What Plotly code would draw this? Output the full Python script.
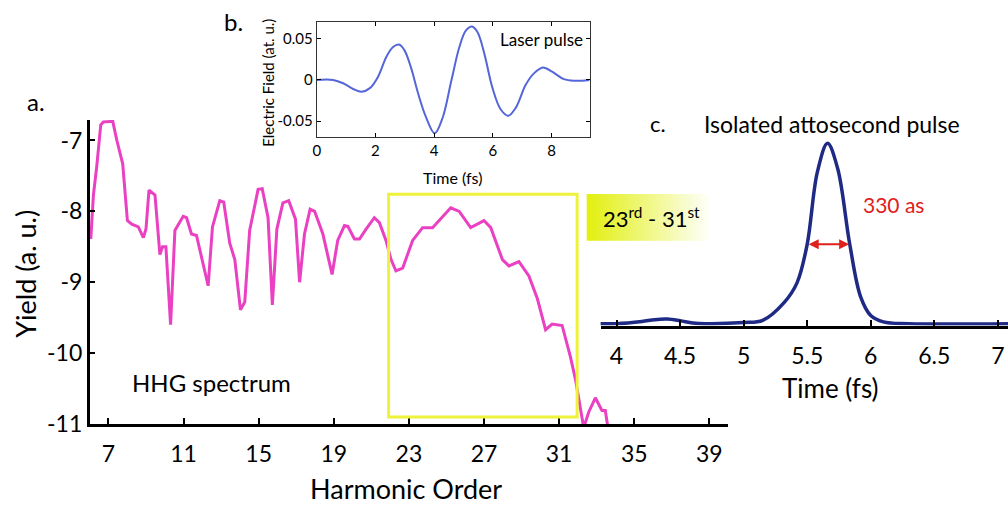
import plotly.graph_objects as go

W, H = 1008, 515
FONT = "Lato"

# ---- a. HHG spectrum (log yield vs harmonic order) ----
harmonic = [6.06, 6.2, 6.38, 6.59, 6.73, 7.23, 7.44, 7.76, 8.01, 8.24, 8.59, 8.86, 9.0, 9.16,
            9.48, 9.74, 9.88, 10.06, 10.31, 10.54, 10.98, 11.16, 11.42, 11.69, 12.31, 12.54,
            12.93, 13.14, 13.46, 13.73, 14.03, 14.26, 14.52, 14.97, 15.19, 15.5, 15.73, 15.97,
            16.29, 16.6, 16.96, 17.18, 17.44, 17.74, 17.98, 18.42, 18.91, 19.21, 19.57, 19.75,
            20.1, 20.37, 20.72, 21.16, 21.43, 21.78, 22.05, 22.31, 22.67, 23.2, 23.73, 24.26,
            25.23, 25.68, 26.29, 27.0, 27.36, 27.98, 28.33, 28.86, 29.39, 29.84, 30.28, 30.63,
            31.16, 31.6, 31.87, 32.31, 32.58, 32.93, 33.28, 33.46, 33.6]
log_yield = [-8.39, -7.77, -7.36, -6.78, -6.74, -6.73, -6.99, -7.33, -8.13, -8.18, -8.22, -8.37,
             -8.25, -7.70, -7.77, -8.61, -8.50, -8.50, -9.60, -8.27, -8.07, -8.09, -8.32, -8.34,
             -9.05, -8.22, -7.85, -7.87, -8.45, -8.68, -9.39, -9.28, -8.27, -7.69, -7.68, -8.09,
             -9.32, -8.25, -7.88, -7.85, -8.11, -9.0, -8.32, -7.97, -8.0, -8.32, -8.89, -8.41,
             -8.20, -8.21, -8.39, -8.39, -8.25, -8.09, -8.16, -8.41, -8.68, -8.84, -8.80, -8.41,
             -8.23, -8.23, -7.95, -8.0, -8.23, -8.13, -8.23, -8.68, -8.77, -8.71, -8.91, -9.23,
             -9.67, -9.59, -9.61, -10.05, -10.37, -11.05, -10.83, -10.63, -10.81, -10.81, -11.05]
harmonic_ticks = [7, 11, 15, 19, 23, 27, 31, 35, 39]
yield_ticks = [-7, -8, -9, -10, -11]
yield_tick_text = ["-7", "-8", "-9", "-10", "-11"]
# filtered window of harmonics
window_orders = [21.92, 31.96]
window_yield = [-10.9, -7.76]

# ---- b. driving laser field ----
laser_t = [0.0, 0.56, 0.9, 1.24, 1.53, 1.81, 2.09, 2.37, 2.6, 2.8, 2.99, 3.22, 3.45, 3.73, 4.02,
           4.29, 4.58, 4.86, 5.08, 5.29, 5.48, 5.71, 5.99, 6.27, 6.53, 6.78, 7.12, 7.4, 7.71,
           8.02, 8.42, 8.76, 9.3]
laser_field = [0.0, 0.0, -0.004, -0.011, -0.0144, -0.010, 0.004, 0.028, 0.040, 0.043, 0.036,
               0.014, -0.016, -0.046, -0.065, -0.046, -0.002, 0.040, 0.060, 0.065, 0.058, 0.032,
               -0.010, -0.036, -0.0436, -0.034, -0.006, 0.008, 0.0152, 0.010, 0.001, -0.001, 0.0]
laser_t_ticks = [0, 2, 4, 6, 8]
field_ticks = [-0.05, 0, 0.05]
field_tick_text = ["-0.05", "0", "0.05"]

# ---- c. isolated attosecond pulse intensity ----
pulse_t = [3.8, 4.0, 4.2, 4.3, 4.4, 4.5, 4.6, 4.7, 5.0, 5.15, 5.32, 5.42, 5.5, 5.58, 5.66,
           5.74, 5.835, 5.92, 6.0, 6.1, 6.3, 7.2]
pulse_int = [0.0, 0.0, 0.012, 0.022, 0.025, 0.016, 0.004, 0.0, 0.006, 0.018, 0.118, 0.226,
             0.44, 0.84, 1.0, 0.86, 0.44, 0.15, 0.045, 0.01, 0.0, 0.0]
pulse_t_ticks = [4, 4.5, 5, 5.5, 6, 6.5, 7]
pulse_t_text = ["4", "4.5", "5", "5.5", "6", "6.5", "7"]
fwhm_start = 5.5   # fs
fwhm_as = 330      # attoseconds


def px(x):
    return x / W


def py(y):
    return 1 - y / H


MAGENTA = "#ea40c2"
NAVY = "#1e2a84"
BLUE = "#5566d8"
YELLOW = "#eef23a"

fig = go.Figure()

fig.add_trace(go.Scatter(x=harmonic, y=log_yield, mode="lines",
                         line=dict(color=MAGENTA, width=3), xaxis="x", yaxis="y"))
fig.add_trace(go.Scatter(x=pulse_t, y=pulse_int, mode="lines", line_shape="spline",
                         line=dict(color=NAVY, width=3.5), xaxis="x2", yaxis="y2"))
fig.add_trace(go.Scatter(x=laser_t, y=laser_field, mode="lines", line_shape="spline",
                         line=dict(color=BLUE, width=2), xaxis="x3", yaxis="y3"))

axis_common = dict(showgrid=False, zeroline=False, showline=True, linecolor="black",
                   ticks="inside", tickcolor="black")

shapes = [dict(type="rect", xref="x", yref="y",
               x0=window_orders[0], x1=window_orders[1], y0=window_yield[0], y1=window_yield[1],
               line=dict(color=YELLOW, width=3), fillcolor="rgba(0,0,0,0)")]

# gradient label box (yellow-green fading to white)
gx0, gx1, gy0, gy1 = 585, 713, 199, 247
steps = 32
c0 = (226, 240, 18)
for i in range(steps):
    f = i / (steps - 1)
    col = tuple(int(round(c + (255 - c) * f)) for c in c0)
    shapes.append(dict(type="rect", xref="paper", yref="paper", layer="below",
                       x0=px(gx0 + (gx1 - gx0) * i / steps),
                       x1=px(gx0 + (gx1 - gx0) * (i + 1) / steps + 0.6),
                       y0=py(gy1), y1=py(gy0),
                       line=dict(width=0), fillcolor="rgb(%d,%d,%d)" % col))


def label(text, x, y, size, color="black", angle=0, xanchor="center"):
    return dict(text=text, x=px(x), y=py(y), xref="paper", yref="paper", showarrow=False,
                xanchor=xanchor, yanchor="middle", textangle=angle,
                font=dict(family=FONT, size=size, color=color))


annotations = [
    label("a.", 32, 104, 24),
    label("b.", 230, 22, 24),
    label("c.", 657, 127, 22),
    label("Isolated attosecond pulse", 831, 127, 23),
    label("330 as", 893, 210, 21, color="#e0201c"),
    label("HHG spectrum", 208, 392, 24),
    label("Yield (a. u.)", 22, 281, 27, angle=-90),
    label("Harmonic Order", 404, 501, 27),
    label("Time (fs)", 830, 398, 26),
    label("Electric Field (at. u.)", 265, 85, 15, angle=-90),
    label("Time (fs)", 450, 182, 16),
    label("Laser pulse", 583, 41, 17, xanchor="right"),
    label("23<sup>rd</sup> - 31<sup>st</sup>", 650, 223, 22),
    dict(x=fwhm_start + fwhm_as / 1000, y=0.44, ax=fwhm_start, ay=0.44,
         xref="x2", yref="y2", axref="x2", ayref="y2", text="", showarrow=True,
         arrowhead=2, startarrowhead=2, arrowside="end+start", arrowsize=1,
         startarrowsize=1, arrowwidth=2, arrowcolor="#e0201c", standoff=0, startstandoff=0),
]

fig.update_layout(
    width=W, height=H, margin=dict(l=0, r=0, t=0, b=0),
    paper_bgcolor="white", plot_bgcolor="rgba(0,0,0,0)", showlegend=False,
    font=dict(family=FONT, color="black"),
    xaxis=dict(axis_common, domain=[px(86), px(727)], range=[6, 40], anchor="y",
               tickvals=harmonic_ticks, ticklen=6, tickwidth=2, linewidth=2.5,
               tickfont=dict(size=23), ticklabelstandoff=8),
    yaxis=dict(axis_common, domain=[py(435), py(123)], range=[-11, -6.71], anchor="x",
               tickvals=yield_ticks, ticktext=yield_tick_text, ticklen=6, tickwidth=2,
               linewidth=2.5, tickfont=dict(size=23)),
    xaxis2=dict(axis_common, domain=[px(599), 1.0], range=[3.875, 7.08], anchor="y2",
                tickvals=pulse_t_ticks, ticktext=pulse_t_text, ticklen=6, tickwidth=2,
                linewidth=2.5, tickfont=dict(size=23), ticklabelstandoff=8),
    yaxis2=dict(domain=[py(334), py(140)], range=[-0.0108, 1.038], anchor="x2", visible=False),
    xaxis3=dict(axis_common, domain=[px(314), px(588)], range=[0, 9.3], anchor="y3",
                tickvals=laser_t_ticks, ticklen=4, tickwidth=1, linewidth=1, linecolor="#333",
                mirror="ticks", tickfont=dict(size=15)),
    yaxis3=dict(axis_common, domain=[py(141), py(23)], range=[-0.07, 0.07], anchor="x3",
                tickvals=field_ticks, ticktext=field_tick_text, ticklen=4, tickwidth=1,
                linewidth=1, linecolor="#333", mirror="ticks", tickfont=dict(size=15)),
    shapes=shapes,
    annotations=annotations,
)

fig.write_html("out.html")
